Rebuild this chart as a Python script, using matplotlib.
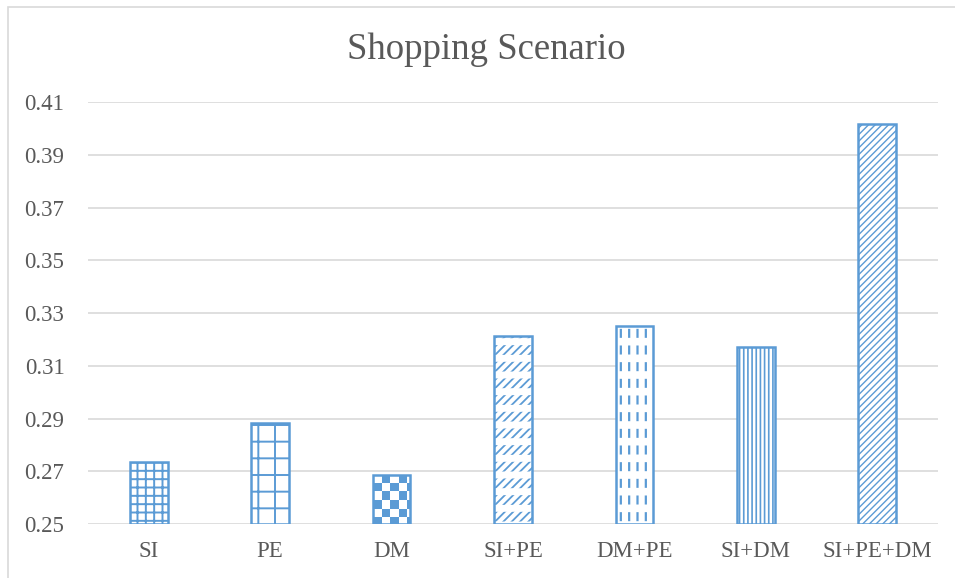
import numpy as np
import matplotlib
matplotlib.use("Agg")
import matplotlib.pyplot as plt
from matplotlib.colors import ListedColormap
from matplotlib.patches import Rectangle

# --- data ---
categories = ["SI", "PE", "DM", "SI+PE", "DM+PE", "SI+DM", "SI+PE+DM"]
scores = [0.2735, 0.2883, 0.2686, 0.3214, 0.3252, 0.3170, 0.4017]
y_ticks = [0.25, 0.27, 0.29, 0.31, 0.33, 0.35, 0.37, 0.39, 0.41]

# hatch per bar (None -> checkerboard drawn by hand)
hatches = ["++", "+", None, "////", "||", "||||", "/////"]
hatch_lw = [1.4, 1.4, 1.4, 1.3, 1.6, 1.2, 1.0]
# white "cutting" hatch that turns the lines into dashes (None = solid)
cuts = [None, None, None, ("-", 5.0), ("-", 5.5), None, None]

BLUE = "#5B9BD5"
TXT = "#595959"
GRID = "#D9D9D9"
BAR_W = 0.31

plt.rcParams["font.family"] = ["Liberation Serif", "DejaVu Serif"]
plt.rcParams["hatch.color"] = BLUE
plt.rcParams["hatch.linewidth"] = 1.4

fig = plt.figure(figsize=(9.55, 5.78), dpi=100)
ax = fig.add_axes([88 / 955, 1 - 524 / 578, 850 / 955, (524 - 102.3) / 578])

x = np.arange(len(categories))
heights = [v - y_ticks[0] for v in scores]

# base bars with hatch
bars = ax.bar(x, heights, bottom=y_ticks[0], width=BAR_W, facecolor="white",
              edgecolor=BLUE, linewidth=0, zorder=3)
for b, h, lw in zip(bars, hatches, hatch_lw):
    if h:
        b.set_hatch(h)
        if hasattr(b, "set_hatch_linewidth"):
            b.set_hatch_linewidth(lw)

# white overlay hatch -> dashed look
for xi, hv, c in zip(x, heights, cuts):
    if c is None:
        continue
    pat, lw = c
    with plt.rc_context({"hatch.linewidth": lw}):
        ov = ax.bar(xi, hv, bottom=y_ticks[0], width=BAR_W, fill=False,
                    edgecolor="white", linewidth=0, hatch=pat, zorder=3.2)[0]
    if hasattr(ov, "set_hatch_linewidth"):
        ov.set_hatch_linewidth(lw)

ax.set_xlim(-0.5, len(categories) - 0.5)
ax.set_ylim(y_ticks[0], y_ticks[-1])

# checkerboard fill for DM
b = bars[2]
x0, w = b.get_x(), b.get_width()
y0, hgt = b.get_y(), b.get_height()
fig.canvas.draw()
p0 = ax.transData.transform((x0, y0))
p1 = ax.transData.transform((x0 + w, y0 + hgt))
cell = 8.5
nx = int(np.ceil((p1[0] - p0[0]) / cell))
ny = int(np.ceil((p1[1] - p0[1]) / cell))
checker = (np.add.outer(np.arange(ny), np.arange(nx)) % 2).astype(float)
img = ax.imshow(checker, cmap=ListedColormap(["white", BLUE]), origin="upper",
                extent=(x0, x0 + nx * cell * w / (p1[0] - p0[0]),
                        y0 + hgt - ny * cell * hgt / (p1[1] - p0[1]), y0 + hgt),
                interpolation="nearest", aspect="auto", zorder=3.5)
img.set_clip_path(b)

# outlines on top
ax.bar(x, heights, bottom=y_ticks[0], width=BAR_W, fill=False,
       edgecolor=BLUE, linewidth=1.8, zorder=4)

ax.set_yticks(y_ticks)
ax.set_yticklabels([f"{t:.2f}" for t in y_ticks])
ax.set_xticks(x)
ax.set_xticklabels(categories)
ax.tick_params(axis="both", length=0, colors=TXT, labelsize=16.5)
ax.tick_params(axis="y", pad=17)
ax.tick_params(axis="x", pad=12)
ax.grid(axis="y", color=GRID, linewidth=1.2, zorder=0)
for s in ax.spines.values():
    s.set_visible(False)

fig.text(486 / 955, 1 - 50 / 578, "Shopping Scenario", ha="center", va="center",
         fontsize=26.5, color=TXT)

# chart-area frame
fig.patches.append(Rectangle((8 / 955, -0.05), 1.1, 1 - 7 / 578 + 0.05,
                             transform=fig.transFigure, facecolor="none",
                             edgecolor=GRID, linewidth=1.2))

fig.savefig("out.png", dpi=100)
